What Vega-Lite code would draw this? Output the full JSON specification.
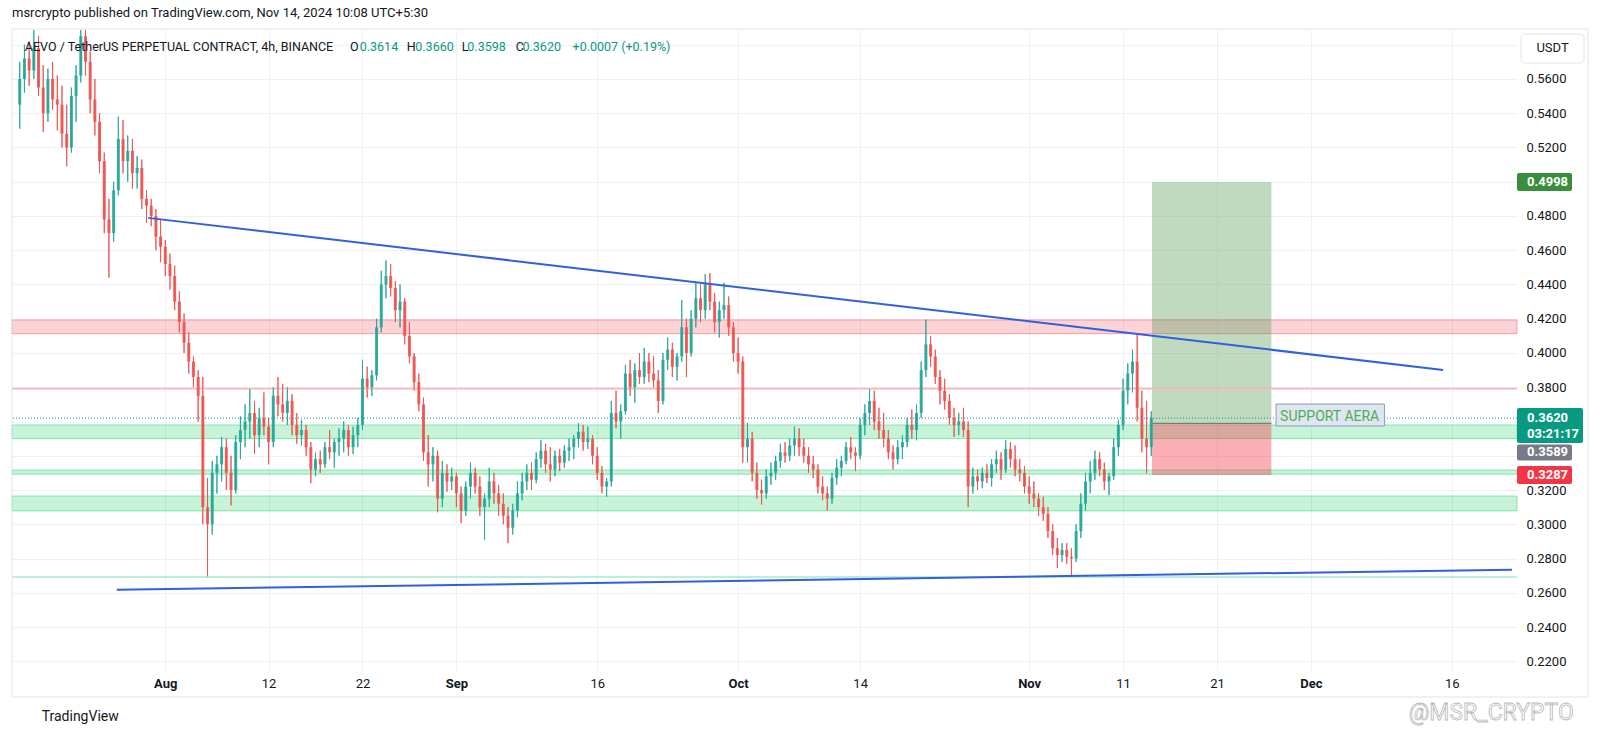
{
  "$schema": "https://vega.github.io/schema/vega-lite/v6.json",
  "width": 1505,
  "height": 640,
  "autosize": {"type": "none"},
  "padding": {"left": 12, "top": 30, "right": 83, "bottom": 67},
  "background": "#ffffff",
  "title": {
    "text": "msrcrypto published on TradingView.com, Nov 14, 2024 10:08 UTC+5:30",
    "anchor": "start",
    "frame": "group",
    "offset": 9,
    "fontSize": 13,
    "fontWeight": "normal",
    "color": "#131722",
    "font": "Roboto"
  },
  "config": {
    "font": "Roboto",
    "view": {"stroke": null},
    "axis": {"domain": false, "ticks": false}
  },
  "datasets": {
    "candles": [
      {"t":"2024-07-16T12:00","o":0.545,"h":0.570,"l":0.531,"c":0.560},
      {"t":"2024-07-17T00:00","o":0.560,"h":0.580,"l":0.552,"c":0.572},
      {"t":"2024-07-17T12:00","o":0.572,"h":0.582,"l":0.556,"c":0.565},
      {"t":"2024-07-18T00:00","o":0.565,"h":0.592,"l":0.560,"c":0.578},
      {"t":"2024-07-18T12:00","o":0.578,"h":0.585,"l":0.550,"c":0.555},
      {"t":"2024-07-19T00:00","o":0.555,"h":0.568,"l":0.529,"c":0.540},
      {"t":"2024-07-19T12:00","o":0.540,"h":0.566,"l":0.535,"c":0.560},
      {"t":"2024-07-20T00:00","o":0.560,"h":0.570,"l":0.542,"c":0.548},
      {"t":"2024-07-20T12:00","o":0.548,"h":0.562,"l":0.530,"c":0.545},
      {"t":"2024-07-21T00:00","o":0.545,"h":0.556,"l":0.520,"c":0.528},
      {"t":"2024-07-21T12:00","o":0.528,"h":0.545,"l":0.509,"c":0.520},
      {"t":"2024-07-22T00:00","o":0.520,"h":0.555,"l":0.517,"c":0.550},
      {"t":"2024-07-22T12:00","o":0.550,"h":0.568,"l":0.535,"c":0.562},
      {"t":"2024-07-23T00:00","o":0.562,"h":0.598,"l":0.558,"c":0.585},
      {"t":"2024-07-23T12:00","o":0.585,"h":0.600,"l":0.562,"c":0.570},
      {"t":"2024-07-24T00:00","o":0.570,"h":0.576,"l":0.540,"c":0.548},
      {"t":"2024-07-24T12:00","o":0.548,"h":0.560,"l":0.527,"c":0.535},
      {"t":"2024-07-25T00:00","o":0.535,"h":0.540,"l":0.505,"c":0.512},
      {"t":"2024-07-25T12:00","o":0.512,"h":0.517,"l":0.470,"c":0.478},
      {"t":"2024-07-26T00:00","o":0.478,"h":0.490,"l":0.444,"c":0.470},
      {"t":"2024-07-26T12:00","o":0.470,"h":0.500,"l":0.465,"c":0.495},
      {"t":"2024-07-27T00:00","o":0.495,"h":0.538,"l":0.492,"c":0.525},
      {"t":"2024-07-27T12:00","o":0.525,"h":0.536,"l":0.505,"c":0.512},
      {"t":"2024-07-28T00:00","o":0.512,"h":0.527,"l":0.500,"c":0.518},
      {"t":"2024-07-28T12:00","o":0.518,"h":0.525,"l":0.496,"c":0.505},
      {"t":"2024-07-29T00:00","o":0.505,"h":0.515,"l":0.496,"c":0.508},
      {"t":"2024-07-29T12:00","o":0.508,"h":0.513,"l":0.484,"c":0.490},
      {"t":"2024-07-30T00:00","o":0.490,"h":0.495,"l":0.476,"c":0.486},
      {"t":"2024-07-30T12:00","o":0.486,"h":0.490,"l":0.474,"c":0.480},
      {"t":"2024-07-31T00:00","o":0.480,"h":0.484,"l":0.460,"c":0.468},
      {"t":"2024-07-31T12:00","o":0.468,"h":0.478,"l":0.453,"c":0.462},
      {"t":"2024-08-01T00:00","o":0.462,"h":0.466,"l":0.445,"c":0.452},
      {"t":"2024-08-01T12:00","o":0.452,"h":0.458,"l":0.437,"c":0.445},
      {"t":"2024-08-02T00:00","o":0.445,"h":0.451,"l":0.425,"c":0.430},
      {"t":"2024-08-02T12:00","o":0.430,"h":0.436,"l":0.412,"c":0.418},
      {"t":"2024-08-03T00:00","o":0.418,"h":0.423,"l":0.400,"c":0.406},
      {"t":"2024-08-03T12:00","o":0.406,"h":0.412,"l":0.388,"c":0.395},
      {"t":"2024-08-04T00:00","o":0.395,"h":0.398,"l":0.380,"c":0.386},
      {"t":"2024-08-04T12:00","o":0.386,"h":0.390,"l":0.360,"c":0.375},
      {"t":"2024-08-05T00:00","o":0.375,"h":0.386,"l":0.300,"c":0.310},
      {"t":"2024-08-05T12:00","o":0.310,"h":0.327,"l":0.2695,"c":0.300},
      {"t":"2024-08-06T00:00","o":0.300,"h":0.337,"l":0.294,"c":0.330},
      {"t":"2024-08-06T12:00","o":0.330,"h":0.340,"l":0.318,"c":0.335},
      {"t":"2024-08-07T00:00","o":0.335,"h":0.351,"l":0.325,"c":0.345},
      {"t":"2024-08-07T12:00","o":0.345,"h":0.350,"l":0.320,"c":0.330},
      {"t":"2024-08-08T00:00","o":0.330,"h":0.340,"l":0.311,"c":0.320},
      {"t":"2024-08-08T12:00","o":0.320,"h":0.352,"l":0.318,"c":0.348},
      {"t":"2024-08-09T00:00","o":0.348,"h":0.363,"l":0.338,"c":0.355},
      {"t":"2024-08-09T12:00","o":0.355,"h":0.370,"l":0.345,"c":0.360},
      {"t":"2024-08-10T00:00","o":0.360,"h":0.379,"l":0.350,"c":0.365},
      {"t":"2024-08-10T12:00","o":0.365,"h":0.372,"l":0.341,"c":0.352},
      {"t":"2024-08-11T00:00","o":0.352,"h":0.368,"l":0.345,"c":0.362},
      {"t":"2024-08-11T12:00","o":0.362,"h":0.377,"l":0.352,"c":0.357},
      {"t":"2024-08-12T00:00","o":0.357,"h":0.362,"l":0.335,"c":0.348},
      {"t":"2024-08-12T12:00","o":0.348,"h":0.380,"l":0.345,"c":0.375},
      {"t":"2024-08-13T00:00","o":0.375,"h":0.386,"l":0.363,"c":0.370},
      {"t":"2024-08-13T12:00","o":0.370,"h":0.382,"l":0.360,"c":0.365},
      {"t":"2024-08-14T00:00","o":0.365,"h":0.380,"l":0.358,"c":0.372},
      {"t":"2024-08-14T12:00","o":0.372,"h":0.376,"l":0.352,"c":0.358},
      {"t":"2024-08-15T00:00","o":0.358,"h":0.365,"l":0.347,"c":0.352},
      {"t":"2024-08-15T12:00","o":0.352,"h":0.361,"l":0.346,"c":0.355},
      {"t":"2024-08-16T00:00","o":0.355,"h":0.358,"l":0.340,"c":0.345},
      {"t":"2024-08-16T12:00","o":0.345,"h":0.348,"l":0.324,"c":0.332},
      {"t":"2024-08-17T00:00","o":0.332,"h":0.342,"l":0.328,"c":0.338},
      {"t":"2024-08-17T12:00","o":0.338,"h":0.343,"l":0.330,"c":0.335},
      {"t":"2024-08-18T00:00","o":0.335,"h":0.348,"l":0.333,"c":0.345},
      {"t":"2024-08-18T12:00","o":0.345,"h":0.355,"l":0.338,"c":0.342},
      {"t":"2024-08-19T00:00","o":0.342,"h":0.350,"l":0.333,"c":0.348},
      {"t":"2024-08-19T12:00","o":0.348,"h":0.356,"l":0.340,"c":0.350},
      {"t":"2024-08-20T00:00","o":0.350,"h":0.360,"l":0.342,"c":0.355},
      {"t":"2024-08-20T12:00","o":0.355,"h":0.358,"l":0.340,"c":0.345},
      {"t":"2024-08-21T00:00","o":0.345,"h":0.357,"l":0.341,"c":0.352},
      {"t":"2024-08-21T12:00","o":0.352,"h":0.362,"l":0.345,"c":0.358},
      {"t":"2024-08-22T00:00","o":0.358,"h":0.396,"l":0.355,"c":0.385},
      {"t":"2024-08-22T12:00","o":0.385,"h":0.392,"l":0.374,"c":0.380},
      {"t":"2024-08-23T00:00","o":0.380,"h":0.390,"l":0.375,"c":0.387},
      {"t":"2024-08-23T12:00","o":0.387,"h":0.420,"l":0.384,"c":0.415},
      {"t":"2024-08-24T00:00","o":0.415,"h":0.448,"l":0.412,"c":0.440},
      {"t":"2024-08-24T12:00","o":0.440,"h":0.454,"l":0.432,"c":0.445},
      {"t":"2024-08-25T00:00","o":0.445,"h":0.452,"l":0.433,"c":0.438},
      {"t":"2024-08-25T12:00","o":0.438,"h":0.442,"l":0.418,"c":0.425},
      {"t":"2024-08-26T00:00","o":0.425,"h":0.440,"l":0.415,"c":0.430},
      {"t":"2024-08-26T12:00","o":0.430,"h":0.432,"l":0.405,"c":0.410},
      {"t":"2024-08-27T00:00","o":0.410,"h":0.418,"l":0.394,"c":0.398},
      {"t":"2024-08-27T12:00","o":0.398,"h":0.400,"l":0.378,"c":0.383},
      {"t":"2024-08-28T00:00","o":0.383,"h":0.388,"l":0.366,"c":0.370},
      {"t":"2024-08-28T12:00","o":0.370,"h":0.374,"l":0.337,"c":0.342},
      {"t":"2024-08-29T00:00","o":0.342,"h":0.352,"l":0.322,"c":0.335},
      {"t":"2024-08-29T12:00","o":0.335,"h":0.345,"l":0.325,"c":0.340},
      {"t":"2024-08-30T00:00","o":0.340,"h":0.343,"l":0.307,"c":0.315},
      {"t":"2024-08-30T12:00","o":0.315,"h":0.337,"l":0.310,"c":0.330},
      {"t":"2024-08-31T00:00","o":0.330,"h":0.335,"l":0.319,"c":0.325},
      {"t":"2024-08-31T12:00","o":0.325,"h":0.333,"l":0.320,"c":0.328},
      {"t":"2024-09-01T00:00","o":0.328,"h":0.330,"l":0.310,"c":0.318},
      {"t":"2024-09-01T12:00","o":0.318,"h":0.322,"l":0.3007,"c":0.308},
      {"t":"2024-09-02T00:00","o":0.308,"h":0.325,"l":0.305,"c":0.322},
      {"t":"2024-09-02T12:00","o":0.322,"h":0.336,"l":0.315,"c":0.330},
      {"t":"2024-09-03T00:00","o":0.330,"h":0.333,"l":0.318,"c":0.322},
      {"t":"2024-09-03T12:00","o":0.322,"h":0.328,"l":0.305,"c":0.310},
      {"t":"2024-09-04T00:00","o":0.310,"h":0.318,"l":0.291,"c":0.315},
      {"t":"2024-09-04T12:00","o":0.315,"h":0.333,"l":0.310,"c":0.325},
      {"t":"2024-09-05T00:00","o":0.325,"h":0.330,"l":0.312,"c":0.318},
      {"t":"2024-09-05T12:00","o":0.318,"h":0.323,"l":0.305,"c":0.312},
      {"t":"2024-09-06T00:00","o":0.312,"h":0.318,"l":0.300,"c":0.305},
      {"t":"2024-09-06T12:00","o":0.305,"h":0.310,"l":0.289,"c":0.298},
      {"t":"2024-09-07T00:00","o":0.298,"h":0.312,"l":0.294,"c":0.308},
      {"t":"2024-09-07T12:00","o":0.308,"h":0.325,"l":0.304,"c":0.318},
      {"t":"2024-09-08T00:00","o":0.318,"h":0.330,"l":0.314,"c":0.325},
      {"t":"2024-09-08T12:00","o":0.325,"h":0.335,"l":0.320,"c":0.330},
      {"t":"2024-09-09T00:00","o":0.330,"h":0.336,"l":0.320,"c":0.326},
      {"t":"2024-09-09T12:00","o":0.326,"h":0.342,"l":0.324,"c":0.338},
      {"t":"2024-09-10T00:00","o":0.338,"h":0.349,"l":0.333,"c":0.343},
      {"t":"2024-09-10T12:00","o":0.343,"h":0.347,"l":0.330,"c":0.335},
      {"t":"2024-09-11T00:00","o":0.335,"h":0.345,"l":0.325,"c":0.332},
      {"t":"2024-09-11T12:00","o":0.332,"h":0.343,"l":0.328,"c":0.340},
      {"t":"2024-09-12T00:00","o":0.340,"h":0.344,"l":0.331,"c":0.336},
      {"t":"2024-09-12T12:00","o":0.336,"h":0.346,"l":0.333,"c":0.343},
      {"t":"2024-09-13T00:00","o":0.343,"h":0.350,"l":0.337,"c":0.345},
      {"t":"2024-09-13T12:00","o":0.345,"h":0.352,"l":0.338,"c":0.350},
      {"t":"2024-09-14T00:00","o":0.350,"h":0.359,"l":0.345,"c":0.354},
      {"t":"2024-09-14T12:00","o":0.354,"h":0.358,"l":0.343,"c":0.348},
      {"t":"2024-09-15T00:00","o":0.348,"h":0.357,"l":0.344,"c":0.350},
      {"t":"2024-09-15T12:00","o":0.350,"h":0.352,"l":0.335,"c":0.340},
      {"t":"2024-09-16T00:00","o":0.340,"h":0.345,"l":0.326,"c":0.330},
      {"t":"2024-09-16T12:00","o":0.330,"h":0.334,"l":0.318,"c":0.322},
      {"t":"2024-09-17T00:00","o":0.322,"h":0.327,"l":0.316,"c":0.325},
      {"t":"2024-09-17T12:00","o":0.325,"h":0.372,"l":0.322,"c":0.365},
      {"t":"2024-09-18T00:00","o":0.365,"h":0.378,"l":0.356,"c":0.360},
      {"t":"2024-09-18T12:00","o":0.360,"h":0.370,"l":0.350,"c":0.366},
      {"t":"2024-09-19T00:00","o":0.366,"h":0.393,"l":0.364,"c":0.388},
      {"t":"2024-09-19T12:00","o":0.388,"h":0.396,"l":0.375,"c":0.380},
      {"t":"2024-09-20T00:00","o":0.380,"h":0.394,"l":0.371,"c":0.390},
      {"t":"2024-09-20T12:00","o":0.390,"h":0.400,"l":0.382,"c":0.386},
      {"t":"2024-09-21T00:00","o":0.386,"h":0.403,"l":0.382,"c":0.395},
      {"t":"2024-09-21T12:00","o":0.395,"h":0.400,"l":0.383,"c":0.388},
      {"t":"2024-09-22T00:00","o":0.388,"h":0.398,"l":0.380,"c":0.384},
      {"t":"2024-09-22T12:00","o":0.384,"h":0.390,"l":0.365,"c":0.372},
      {"t":"2024-09-23T00:00","o":0.372,"h":0.400,"l":0.370,"c":0.396},
      {"t":"2024-09-23T12:00","o":0.396,"h":0.409,"l":0.390,"c":0.402},
      {"t":"2024-09-24T00:00","o":0.402,"h":0.406,"l":0.386,"c":0.392},
      {"t":"2024-09-24T12:00","o":0.392,"h":0.400,"l":0.384,"c":0.398},
      {"t":"2024-09-25T00:00","o":0.398,"h":0.431,"l":0.395,"c":0.415},
      {"t":"2024-09-25T12:00","o":0.415,"h":0.420,"l":0.386,"c":0.400},
      {"t":"2024-09-26T00:00","o":0.400,"h":0.425,"l":0.398,"c":0.420},
      {"t":"2024-09-26T12:00","o":0.420,"h":0.441,"l":0.415,"c":0.432},
      {"t":"2024-09-27T00:00","o":0.432,"h":0.440,"l":0.418,"c":0.425},
      {"t":"2024-09-27T12:00","o":0.425,"h":0.446,"l":0.420,"c":0.440},
      {"t":"2024-09-28T00:00","o":0.440,"h":0.4467,"l":0.425,"c":0.430},
      {"t":"2024-09-28T12:00","o":0.430,"h":0.435,"l":0.412,"c":0.418},
      {"t":"2024-09-29T00:00","o":0.418,"h":0.430,"l":0.409,"c":0.425},
      {"t":"2024-09-29T12:00","o":0.425,"h":0.441,"l":0.420,"c":0.428},
      {"t":"2024-09-30T00:00","o":0.428,"h":0.433,"l":0.410,"c":0.415},
      {"t":"2024-09-30T12:00","o":0.415,"h":0.418,"l":0.395,"c":0.400},
      {"t":"2024-10-01T00:00","o":0.400,"h":0.409,"l":0.388,"c":0.395},
      {"t":"2024-10-01T12:00","o":0.395,"h":0.398,"l":0.336,"c":0.345},
      {"t":"2024-10-02T00:00","o":0.345,"h":0.359,"l":0.336,"c":0.350},
      {"t":"2024-10-02T12:00","o":0.350,"h":0.354,"l":0.325,"c":0.330},
      {"t":"2024-10-03T00:00","o":0.330,"h":0.336,"l":0.315,"c":0.320},
      {"t":"2024-10-03T12:00","o":0.320,"h":0.326,"l":0.3115,"c":0.318},
      {"t":"2024-10-04T00:00","o":0.318,"h":0.332,"l":0.315,"c":0.328},
      {"t":"2024-10-04T12:00","o":0.328,"h":0.336,"l":0.323,"c":0.330},
      {"t":"2024-10-05T00:00","o":0.330,"h":0.340,"l":0.326,"c":0.337},
      {"t":"2024-10-05T12:00","o":0.337,"h":0.347,"l":0.333,"c":0.342},
      {"t":"2024-10-06T00:00","o":0.342,"h":0.348,"l":0.336,"c":0.340},
      {"t":"2024-10-06T12:00","o":0.340,"h":0.350,"l":0.337,"c":0.346},
      {"t":"2024-10-07T00:00","o":0.346,"h":0.357,"l":0.340,"c":0.350},
      {"t":"2024-10-07T12:00","o":0.350,"h":0.356,"l":0.340,"c":0.345},
      {"t":"2024-10-08T00:00","o":0.345,"h":0.350,"l":0.336,"c":0.340},
      {"t":"2024-10-08T12:00","o":0.340,"h":0.345,"l":0.330,"c":0.335},
      {"t":"2024-10-09T00:00","o":0.335,"h":0.340,"l":0.327,"c":0.332},
      {"t":"2024-10-09T12:00","o":0.332,"h":0.335,"l":0.318,"c":0.322},
      {"t":"2024-10-10T00:00","o":0.322,"h":0.328,"l":0.314,"c":0.318},
      {"t":"2024-10-10T12:00","o":0.318,"h":0.322,"l":0.308,"c":0.315},
      {"t":"2024-10-11T00:00","o":0.315,"h":0.330,"l":0.312,"c":0.327},
      {"t":"2024-10-11T12:00","o":0.327,"h":0.338,"l":0.323,"c":0.333},
      {"t":"2024-10-12T00:00","o":0.333,"h":0.340,"l":0.328,"c":0.337},
      {"t":"2024-10-12T12:00","o":0.337,"h":0.348,"l":0.335,"c":0.345},
      {"t":"2024-10-13T00:00","o":0.345,"h":0.351,"l":0.338,"c":0.342},
      {"t":"2024-10-13T12:00","o":0.342,"h":0.345,"l":0.331,"c":0.340},
      {"t":"2024-10-14T00:00","o":0.340,"h":0.362,"l":0.338,"c":0.358},
      {"t":"2024-10-14T12:00","o":0.358,"h":0.370,"l":0.352,"c":0.365},
      {"t":"2024-10-15T00:00","o":0.365,"h":0.379,"l":0.358,"c":0.372},
      {"t":"2024-10-15T12:00","o":0.372,"h":0.378,"l":0.355,"c":0.360},
      {"t":"2024-10-16T00:00","o":0.360,"h":0.368,"l":0.350,"c":0.355},
      {"t":"2024-10-16T12:00","o":0.355,"h":0.365,"l":0.345,"c":0.350},
      {"t":"2024-10-17T00:00","o":0.350,"h":0.355,"l":0.338,"c":0.342},
      {"t":"2024-10-17T12:00","o":0.342,"h":0.346,"l":0.332,"c":0.338},
      {"t":"2024-10-18T00:00","o":0.338,"h":0.349,"l":0.335,"c":0.345},
      {"t":"2024-10-18T12:00","o":0.345,"h":0.352,"l":0.338,"c":0.348},
      {"t":"2024-10-19T00:00","o":0.348,"h":0.362,"l":0.345,"c":0.358},
      {"t":"2024-10-19T12:00","o":0.358,"h":0.367,"l":0.350,"c":0.355},
      {"t":"2024-10-20T00:00","o":0.355,"h":0.370,"l":0.349,"c":0.365},
      {"t":"2024-10-20T12:00","o":0.365,"h":0.395,"l":0.362,"c":0.390},
      {"t":"2024-10-21T00:00","o":0.390,"h":0.4195,"l":0.386,"c":0.405},
      {"t":"2024-10-21T12:00","o":0.405,"h":0.410,"l":0.392,"c":0.398},
      {"t":"2024-10-22T00:00","o":0.398,"h":0.402,"l":0.382,"c":0.386},
      {"t":"2024-10-22T12:00","o":0.386,"h":0.390,"l":0.370,"c":0.378},
      {"t":"2024-10-23T00:00","o":0.378,"h":0.385,"l":0.367,"c":0.372},
      {"t":"2024-10-23T12:00","o":0.372,"h":0.376,"l":0.358,"c":0.362},
      {"t":"2024-10-24T00:00","o":0.362,"h":0.368,"l":0.351,"c":0.358},
      {"t":"2024-10-24T12:00","o":0.358,"h":0.365,"l":0.352,"c":0.360},
      {"t":"2024-10-25T00:00","o":0.360,"h":0.368,"l":0.351,"c":0.355},
      {"t":"2024-10-25T12:00","o":0.355,"h":0.360,"l":0.310,"c":0.322},
      {"t":"2024-10-26T00:00","o":0.322,"h":0.333,"l":0.318,"c":0.328},
      {"t":"2024-10-26T12:00","o":0.328,"h":0.332,"l":0.320,"c":0.325},
      {"t":"2024-10-27T00:00","o":0.325,"h":0.333,"l":0.321,"c":0.330},
      {"t":"2024-10-27T12:00","o":0.330,"h":0.335,"l":0.324,"c":0.327},
      {"t":"2024-10-28T00:00","o":0.327,"h":0.338,"l":0.322,"c":0.335},
      {"t":"2024-10-28T12:00","o":0.335,"h":0.343,"l":0.330,"c":0.338},
      {"t":"2024-10-29T00:00","o":0.338,"h":0.342,"l":0.326,"c":0.332},
      {"t":"2024-10-29T12:00","o":0.332,"h":0.349,"l":0.330,"c":0.344},
      {"t":"2024-10-30T00:00","o":0.344,"h":0.348,"l":0.333,"c":0.338},
      {"t":"2024-10-30T12:00","o":0.338,"h":0.346,"l":0.328,"c":0.332},
      {"t":"2024-10-31T00:00","o":0.332,"h":0.338,"l":0.325,"c":0.330},
      {"t":"2024-10-31T12:00","o":0.330,"h":0.334,"l":0.318,"c":0.322},
      {"t":"2024-11-01T00:00","o":0.322,"h":0.328,"l":0.312,"c":0.318},
      {"t":"2024-11-01T12:00","o":0.318,"h":0.325,"l":0.310,"c":0.315},
      {"t":"2024-11-02T00:00","o":0.315,"h":0.318,"l":0.305,"c":0.310},
      {"t":"2024-11-02T12:00","o":0.310,"h":0.316,"l":0.302,"c":0.306},
      {"t":"2024-11-03T00:00","o":0.306,"h":0.310,"l":0.292,"c":0.296},
      {"t":"2024-11-03T12:00","o":0.296,"h":0.300,"l":0.282,"c":0.286},
      {"t":"2024-11-04T00:00","o":0.286,"h":0.292,"l":0.2745,"c":0.282},
      {"t":"2024-11-04T12:00","o":0.282,"h":0.289,"l":0.278,"c":0.285},
      {"t":"2024-11-05T00:00","o":0.285,"h":0.289,"l":0.277,"c":0.281},
      {"t":"2024-11-05T12:00","o":0.281,"h":0.286,"l":0.2695,"c":0.280},
      {"t":"2024-11-06T00:00","o":0.280,"h":0.300,"l":0.278,"c":0.296},
      {"t":"2024-11-06T12:00","o":0.296,"h":0.318,"l":0.292,"c":0.312},
      {"t":"2024-11-07T00:00","o":0.312,"h":0.330,"l":0.308,"c":0.325},
      {"t":"2024-11-07T12:00","o":0.325,"h":0.337,"l":0.318,"c":0.330},
      {"t":"2024-11-08T00:00","o":0.330,"h":0.343,"l":0.326,"c":0.338},
      {"t":"2024-11-08T12:00","o":0.338,"h":0.342,"l":0.328,"c":0.332},
      {"t":"2024-11-09T00:00","o":0.332,"h":0.336,"l":0.320,"c":0.325},
      {"t":"2024-11-09T12:00","o":0.325,"h":0.330,"l":0.317,"c":0.328},
      {"t":"2024-11-10T00:00","o":0.328,"h":0.350,"l":0.326,"c":0.345},
      {"t":"2024-11-10T12:00","o":0.345,"h":0.361,"l":0.340,"c":0.358},
      {"t":"2024-11-11T00:00","o":0.358,"h":0.385,"l":0.355,"c":0.378},
      {"t":"2024-11-11T12:00","o":0.378,"h":0.394,"l":0.370,"c":0.388},
      {"t":"2024-11-12T00:00","o":0.388,"h":0.402,"l":0.377,"c":0.395},
      {"t":"2024-11-12T12:00","o":0.395,"h":0.411,"l":0.360,"c":0.368},
      {"t":"2024-11-13T00:00","o":0.368,"h":0.378,"l":0.342,"c":0.350},
      {"t":"2024-11-13T12:00","o":0.350,"h":0.372,"l":0.3297,"c":0.345},
      {"t":"2024-11-14T00:00","o":0.345,"h":0.366,"l":0.340,"c":0.362}
    ],
    "zones": [
      {"lo": 0.4113, "hi": 0.4193, "kind": "resistance"},
      {"lo": 0.3500, "hi": 0.3580, "kind": "support"},
      {"lo": 0.3292, "hi": 0.3317, "kind": "support"},
      {"lo": 0.3078, "hi": 0.3165, "kind": "support"}
    ],
    "levels": [
      {"p": 0.3792, "kind": "resistance"},
      {"p": 0.2692, "kind": "support"},
      {"p": 0.3620, "kind": "last"}
    ],
    "trend": [
      {"id": "upper", "t": "2024-07-30T04:00", "p": 0.4789},
      {"id": "upper", "t": "2024-12-15T02:00", "p": 0.3901},
      {"id": "lower", "t": "2024-07-26T20:00", "p": 0.2617},
      {"id": "lower", "t": "2024-12-22T10:00", "p": 0.2735}
    ],
    "position": [
      {"t0": "2024-11-14T02:00", "t1": "2024-11-26T19:00", "lo": 0.3589, "hi": 0.4998, "kind": "target"},
      {"t0": "2024-11-14T02:00", "t1": "2024-11-26T19:00", "lo": 0.3287, "hi": 0.3589, "kind": "stop"}
    ],
    "notes": [
      {"text": "SUPPORT AERA", "t0": "2024-11-27T07:00", "t1": "2024-12-08T20:00", "lo": 0.3574, "hi": 0.3702}
    ],
    "legend": [
      {"text": "AEVO / TetherUS PERPETUAL CONTRACT, 4h, BINANCE", "t": "2024-07-17T01:00", "tone": "dark"},
      {"text": "O", "t": "2024-08-20T16:00", "tone": "dark"},
      {"text": "0.3614", "t": "2024-08-21T17:00", "tone": "up"},
      {"text": "H", "t": "2024-08-26T17:00", "tone": "dark"},
      {"text": "0.3660", "t": "2024-08-27T15:00", "tone": "up"},
      {"text": "L", "t": "2024-09-01T13:30", "tone": "dark"},
      {"text": "0.3598", "t": "2024-09-02T04:00", "tone": "up"},
      {"text": "C", "t": "2024-09-07T08:00", "tone": "dark"},
      {"text": "0.3620", "t": "2024-09-08T01:00", "tone": "up"},
      {"text": "+0.0007 (+0.19%)", "t": "2024-09-13T09:00", "tone": "up"}
    ],
    "tags": [
      {"label": "0.4998", "p": 0.4998, "kind": "target"},
      {"label": "0.3620", "p": 0.3620, "kind": "last"},
      {"label": "03:21:17", "p": 0.3620, "kind": "timer"},
      {"label": "0.3589", "p": 0.3589, "kind": "entry"},
      {"label": "0.3287", "p": 0.3287, "kind": "stop"}
    ]
  },
  "layer": [
    {
      "data": {"name": "candles"},
      "mark": {"type": "rule", "strokeWidth": 1, "clip": true, "opacity": 0.9},
      "encoding": {
        "x": {
          "field": "t",
          "type": "temporal",
          "title": null,
          "scale": {
            "domain": [
              {"year": 2024, "month": 7, "date": 16, "hours": 5},
              {"year": 2024, "month": 12, "date": 22, "hours": 10}
            ],
            "nice": false
          },
          "axis": {
            "values": [
              {"year": 2024, "month": 8, "date": 1},
              {"year": 2024, "month": 8, "date": 12},
              {"year": 2024, "month": 8, "date": 22},
              {"year": 2024, "month": 9, "date": 1},
              {"year": 2024, "month": 9, "date": 16},
              {"year": 2024, "month": 10, "date": 1},
              {"year": 2024, "month": 10, "date": 14},
              {"year": 2024, "month": 11, "date": 1},
              {"year": 2024, "month": 11, "date": 11},
              {"year": 2024, "month": 11, "date": 21},
              {"year": 2024, "month": 12, "date": 1},
              {"year": 2024, "month": 12, "date": 16}
            ],
            "tickCount": 40,
            "labelExpr": "date(datum.value) == 1 ? timeFormat(datum.value, '%b') : timeFormat(datum.value, '%-d')",
            "labelFontWeight": {"condition": {"test": "date(datum.value) == 1", "value": "bold"}, "value": "normal"},
            "labelFontSize": 13,
            "labelColor": "#131722",
            "labelPadding": 7,
            "labelOverlap": false,
            "labelFlush": false,
            "grid": true,
            "gridColor": "#eef0f4",
            "domain": false,
            "ticks": false
          }
        },
        "y": {
          "field": "l",
          "type": "quantitative",
          "title": null,
          "scale": {"domain": [0.2149, 0.5886], "zero": false, "nice": false},
          "axis": {
            "orient": "right",
            "values": [0.22, 0.24, 0.26, 0.28, 0.30, 0.32, 0.34, 0.36, 0.38, 0.40, 0.42, 0.44, 0.46, 0.48, 0.50, 0.52, 0.54, 0.56, 0.58],
            "tickCount": 40,
            "labelExpr": "indexof(['0.3400', '0.3600', '0.5000', '0.5800'], format(datum.value, '.4f')) >= 0 ? '' : format(datum.value, '.4f')",
            "labelFontSize": 13,
            "labelColor": "#131722",
            "labelPadding": 9,
            "labelAlign": "left",
            "labelBaseline": "middle",
            "labelOverlap": false,
            "grid": true,
            "gridColor": "#eef0f4",
            "domain": false,
            "ticks": false
          }
        },
        "y2": {"field": "h"},
        "color": {"condition": {"test": "datum.c >= datum.o", "value": "#26a69a"}, "value": "#ef5350"}
      }
    },
    {
      "data": {"name": "zones"},
      "mark": {"type": "rect", "fillOpacity": 0.22, "strokeOpacity": 0.4, "strokeWidth": 1},
      "encoding": {
        "y": {"field": "lo", "type": "quantitative"},
        "y2": {"field": "hi"},
        "fill": {"condition": {"test": "datum.kind == 'resistance'", "value": "#f23645"}, "value": "#00c853"},
        "stroke": {"condition": {"test": "datum.kind == 'resistance'", "value": "#f23645"}, "value": "#00c853"}
      }
    },
    {
      "data": {"name": "position"},
      "mark": {"type": "rect"},
      "encoding": {
        "x": {"field": "t0", "type": "temporal"},
        "x2": {"field": "t1"},
        "y": {"field": "lo", "type": "quantitative"},
        "y2": {"field": "hi"},
        "fill": {"condition": {"test": "datum.kind == 'target'", "value": "#5a9e5a"}, "value": "#f23645"},
        "fillOpacity": {"condition": {"test": "datum.kind == 'target'", "value": 0.38}, "value": 0.4}
      }
    },
    {
      "data": {"name": "position"},
      "transform": [{"filter": "datum.kind == 'target'"}],
      "mark": {"type": "rule", "color": "#6d6f78", "strokeWidth": 1},
      "encoding": {
        "x": {"field": "t0", "type": "temporal"},
        "x2": {"field": "t1"},
        "y": {"field": "lo", "type": "quantitative"}
      }
    },
    {
      "data": {"name": "levels"},
      "transform": [{"filter": "datum.kind != 'last'"}],
      "mark": {"type": "rule", "strokeWidth": 1.6},
      "encoding": {
        "y": {"field": "p", "type": "quantitative"},
        "color": {"condition": {"test": "datum.kind == 'resistance'", "value": "#f7b7ba"}, "value": "#a6e8cc"}
      }
    },
    {
      "data": {"name": "candles"},
      "mark": {"type": "rule", "strokeWidth": 1, "clip": true, "opacity": 0.9},
      "encoding": {
        "x": {"field": "t", "type": "temporal"},
        "y": {"field": "l", "type": "quantitative"},
        "y2": {"field": "h"},
        "color": {"condition": {"test": "datum.c >= datum.o", "value": "#26a69a"}, "value": "#ef5350"}
      }
    },
    {
      "data": {"name": "candles"},
      "mark": {"type": "bar", "width": 3, "clip": true, "opacity": 0.9},
      "encoding": {
        "x": {"field": "t", "type": "temporal"},
        "y": {"field": "o", "type": "quantitative"},
        "y2": {"field": "c"},
        "color": {"condition": {"test": "datum.c >= datum.o", "value": "#26a69a"}, "value": "#ef5350"}
      }
    },
    {
      "data": {"name": "trend"},
      "mark": {"type": "line", "color": "#3060dc", "strokeWidth": 2, "clip": true},
      "encoding": {
        "x": {"field": "t", "type": "temporal"},
        "y": {"field": "p", "type": "quantitative"},
        "detail": {"field": "id"}
      }
    },
    {
      "data": {"name": "levels"},
      "transform": [{"filter": "datum.kind == 'last'"}],
      "mark": {"type": "rule", "color": "#089981", "strokeWidth": 1, "strokeDash": [1, 2]},
      "encoding": {
        "y": {"field": "p", "type": "quantitative"}
      }
    },
    {
      "data": {"name": "notes"},
      "mark": {"type": "rect", "fill": "#dfe6f1", "stroke": "#8a9bbd", "strokeWidth": 1},
      "encoding": {
        "x": {"field": "t0", "type": "temporal"},
        "x2": {"field": "t1"},
        "y": {"field": "lo", "type": "quantitative"},
        "y2": {"field": "hi"}
      }
    },
    {
      "data": {"name": "notes"},
      "mark": {"type": "text", "align": "left", "baseline": "bottom", "dx": 4, "dy": -2, "fontSize": 14, "color": "#4caf50"},
      "encoding": {
        "x": {"field": "t0", "type": "temporal"},
        "y": {"field": "lo", "type": "quantitative"},
        "text": {"field": "text"}
      }
    },
    {
      "data": {"name": "legend"},
      "mark": {"type": "text", "align": "left", "baseline": "middle", "fontSize": 12.5},
      "encoding": {
        "x": {"field": "t", "type": "temporal"},
        "y": {"datum": 0.5787, "type": "quantitative"},
        "text": {"field": "text"},
        "color": {"condition": {"test": "datum.tone == 'up'", "value": "#089981"}, "value": "#131722"}
      }
    },
    {
      "data": {"values": [{"text": "frame"}]},
      "mark": {"type": "rect", "fill": null, "stroke": "#e0e3eb", "strokeWidth": 1, "x2Offset": 71, "y2Offset": 27, "yOffset": -1, "clip": false},
      "encoding": {
        "x": {"value": 0},
        "x2": {"value": "width"},
        "y": {"value": 0},
        "y2": {"value": "height"}
      }
    },
    {
      "data": {"values": [{"text": "USDT"}]},
      "mark": {"type": "rect", "fill": "#ffffff", "stroke": "#e0e3eb", "cornerRadius": 4, "xOffset": 4, "x2Offset": 67, "clip": false},
      "encoding": {
        "x": {"value": "width"},
        "x2": {"value": "width"},
        "y": {"datum": 0.5863, "type": "quantitative"},
        "y2": {"datum": 0.5693}
      }
    },
    {
      "data": {"values": [{"text": "USDT"}]},
      "mark": {"type": "text", "align": "center", "baseline": "middle", "dx": 35.5, "fontSize": 13, "color": "#131722", "clip": false},
      "encoding": {
        "x": {"value": "width"},
        "y": {"datum": 0.5778, "type": "quantitative"},
        "text": {"field": "text"}
      }
    },
    {
      "data": {"name": "tags"},
      "transform": [{"filter": "datum.kind != 'timer'"}],
      "mark": {
        "type": "rect",
        "clip": false,
        "cornerRadius": 2,
        "yOffset": {"expr": "datum.kind == 'last' ? -10 : datum.kind == 'entry' ? 21 : -9"},
        "y2Offset": {"expr": "datum.kind == 'last' ? 25 : datum.kind == 'entry' ? 37 : 9"},
        "x2Offset": {"expr": "datum.kind == 'last' ? 66 : 55"}
      },
      "encoding": {
        "x": {"value": "width"},
        "x2": {"value": "width"},
        "y": {"field": "p", "type": "quantitative"},
        "y2": {"field": "p"},
        "color": {
          "condition": [
            {"test": "datum.kind == 'target'", "value": "#388e3c"},
            {"test": "datum.kind == 'last'", "value": "#089981"},
            {"test": "datum.kind == 'entry'", "value": "#787b86"}
          ],
          "value": "#f23645"
        }
      }
    },
    {
      "data": {"name": "tags"},
      "mark": {
        "type": "text",
        "clip": false,
        "align": "left",
        "baseline": "middle",
        "dx": 10,
        "fontSize": 13,
        "fontWeight": "bold",
        "color": "#ffffff",
        "dy": {"expr": "datum.kind == 'timer' ? 16 : datum.kind == 'entry' ? 29 : 0"}
      },
      "encoding": {
        "x": {"value": "width"},
        "y": {"field": "p", "type": "quantitative"},
        "text": {"field": "label"}
      }
    },
    {
      "data": {"values": [{"text": "TradingView", "t": "2024-07-18T20:00"}]},
      "mark": {"type": "text", "align": "left", "baseline": "middle", "fontSize": 14, "color": "#131722", "clip": false},
      "encoding": {
        "x": {"field": "t", "type": "temporal"},
        "y": {"datum": 0.1875, "type": "quantitative"},
        "text": {"field": "text"}
      }
    },
    {
      "data": {"values": [{"text": "@MSR_CRYPTO", "t": "2024-12-11T10:00"}]},
      "mark": {"type": "text", "align": "left", "baseline": "middle", "fontSize": 23, "fill": "#ffffff", "stroke": "#b8b8b8", "strokeWidth": 0.8, "clip": false},
      "encoding": {
        "x": {"field": "t", "type": "temporal"},
        "y": {"datum": 0.1898, "type": "quantitative"},
        "text": {"field": "text"}
      }
    }
  ]
}
